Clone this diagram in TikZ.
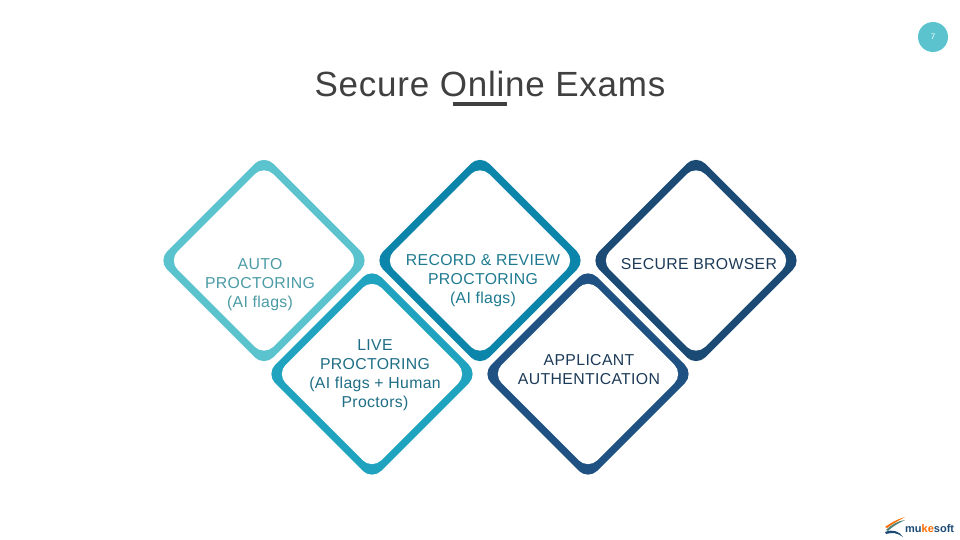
\documentclass[tikz,border=0pt]{standalone}
\usepackage{fontspec}
\setmainfont{Liberation Sans}
\usetikzlibrary{shapes.geometric}
\definecolor{cauto}{HTML}{5AC3CE}
\definecolor{clive}{HTML}{20A3BF}
\definecolor{crec}{HTML}{0B86AA}
\definecolor{cbrow}{HTML}{1B4A75}
\definecolor{capp}{HTML}{1F5283}
\definecolor{tauto}{HTML}{4A9BA6}
\definecolor{tlive}{HTML}{1F6E85}
\definecolor{trec}{HTML}{1E7A90}
\definecolor{tdark}{HTML}{1D3B58}
\definecolor{ttitle}{HTML}{404040}
\newfontfamily\spaced[LetterSpace=2.2]{Liberation Sans}
\tikzset{
  x=1pt,y=-1pt,
  outerd/.style={diamond,aspect=1,inner sep=0pt,outer sep=0pt,minimum width=212pt,minimum height=212pt,rounded corners=13pt,fill=#1},
  innerd/.style={diamond,aspect=1,inner sep=0pt,outer sep=0pt,minimum width=191pt,minimum height=191pt,rounded corners=13pt,fill=white},
  lab/.style={align=center,font=\spaced\fontsize{15.8}{19}\selectfont,text=#1,inner sep=0pt},
}
\begin{document}
\begin{tikzpicture}
\useasboundingbox (0,0) rectangle (960,540);
\node[circle,fill=cauto,minimum size=30pt,inner sep=0pt] (pg) at (933,37) {};
\node[font=\fontsize{8}{10}\selectfont,text=white] (pgn) at (933,37) {7};
\node[font=\spaced\fontsize{35}{40}\selectfont,text=ttitle,inner sep=0pt] (title) at (490,84) {Secure Online Exams};
\fill[ttitle] (453,102) rectangle (507,106);

\node[outerd=cauto] (o1) at (264,260.5) {};
\node[innerd] (i1) at (264,260.5) {};
\node[outerd=crec] (o2) at (480,260.5) {};
\node[innerd] (i2) at (480,260.5) {};
\node[outerd=cbrow] (o3) at (696,260.5) {};
\node[innerd] (i3) at (696,260.5) {};
\node[outerd=clive] (o4) at (372,374) {};
\node[innerd] (i4) at (372,374) {};
\node[outerd=capp] (o5) at (588,374) {};
\node[innerd] (i5) at (588,374) {};

\node[lab=tauto] (t1) at (260,285) {AUTO\\PROCTORING\\(AI flags)};
\node[lab=trec] (t2) at (483,281) {RECORD \& REVIEW\\PROCTORING\\(AI flags)};
\node[lab=tdark] (t3) at (699,264) {SECURE BROWSER};
\node[lab=tlive] (t4) at (375,375.5) {LIVE\\PROCTORING\\(AI flags + Human\\Proctors)};
\node[lab=tdark] (t5) at (589,369.5) {APPLICANT\\AUTHENTICATION};

% logo
\fill[crec!70!orange] (886,530) .. controls (892,524) and (898,521) .. (905,520) .. controls (899,523) and (893,526) .. (888,531) -- cycle;
\fill[orange!85!red] (885,527) .. controls (892,522) and (898,519) .. (905,517) .. controls (898,521) and (892,524) .. (887,528) -- cycle;
\fill[cbrow] (885,532) .. controls (893,529) and (899,531) .. (903,537) .. controls (898,533) and (892,532) .. (886,534) -- cycle;
\node[font=\bfseries\fontsize{11}{12}\selectfont,inner sep=0pt,anchor=west] (logo) at (905,528.5) {\textcolor{cbrow}{mu}\textcolor{orange!85!red}{ke}\textcolor{cbrow}{soft}};
\end{tikzpicture}
\end{document}
